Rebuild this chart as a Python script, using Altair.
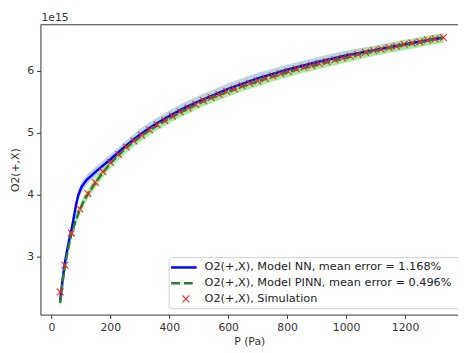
import altair as alt
import pandas as pd

# Simulation points (P in Pa, O2(+,X) in units of 1e15)
sim_p = [30, 46, 68, 97, 124, 149, 175, 201, 228, 254, 280, 306, 333, 359, 385, 411, 437,
         464, 490, 516, 542, 569, 595, 621, 647, 673, 700, 726, 752, 778, 804, 831, 857,
         883, 909, 935, 962, 988, 1014, 1040, 1066, 1093, 1119, 1145, 1171, 1197, 1224,
         1250, 1276, 1302, 1330]
sim_v = [2.43, 2.86, 3.38, 3.77, 4.02, 4.20, 4.37, 4.52, 4.65, 4.77, 4.87, 4.96, 5.05,
         5.13, 5.20, 5.27, 5.34, 5.40, 5.46, 5.52, 5.57, 5.62, 5.67, 5.71, 5.76, 5.80,
         5.84, 5.88, 5.92, 5.96, 5.99, 6.03, 6.06, 6.09, 6.12, 6.15, 6.18, 6.21, 6.24,
         6.27, 6.30, 6.33, 6.35, 6.38, 6.40, 6.43, 6.45, 6.47, 6.50, 6.52, 6.54]

# Model NN curve
nn_p = [30, 38, 46, 54, 62, 68, 76, 84, 92, 103, 120, 150, 175, 200, 250, 300, 350, 400,
        450, 500, 600, 700, 800, 900, 1000, 1100, 1200, 1330]
nn_v = [2.29, 2.62, 2.90, 3.12, 3.30, 3.42, 3.63, 3.84, 4.00, 4.13, 4.24, 4.37, 4.47,
        4.57, 4.78, 4.97, 5.13, 5.27, 5.40, 5.51, 5.71, 5.88, 6.02, 6.14, 6.25, 6.34,
        6.43, 6.54]
nn_err = [0.06, 0.06, 0.06, 0.06, 0.06, 0.06, 0.07, 0.07, 0.07, 0.08, 0.08, 0.08, 0.08,
          0.08, 0.08, 0.09, 0.09, 0.09, 0.09, 0.09, 0.09, 0.09, 0.08, 0.08, 0.08, 0.07,
          0.07, 0.07]

# Model PINN curve
pinn_p = [30, 38, 46, 56, 68, 82, 97, 110, 124, 149, 175, 201, 228, 254, 280, 306, 333,
          359, 385, 411, 437, 464, 490, 516, 542, 569, 595, 621, 647, 673, 700, 726, 752,
          778, 804, 831, 857, 883, 909, 935, 962, 988, 1014, 1040, 1066, 1093, 1119, 1145,
          1171, 1197, 1224, 1250, 1276, 1302, 1330]
pinn_v = [2.25, 2.58, 2.84, 3.10, 3.36, 3.58, 3.76, 3.90, 4.01, 4.19, 4.36, 4.51, 4.64,
          4.76, 4.86, 4.95, 5.04, 5.12, 5.19, 5.26, 5.33, 5.39, 5.45, 5.51, 5.56, 5.61,
          5.66, 5.70, 5.75, 5.79, 5.83, 5.87, 5.91, 5.95, 5.98, 6.02, 6.05, 6.08, 6.11,
          6.14, 6.17, 6.20, 6.23, 6.26, 6.29, 6.32, 6.34, 6.37, 6.39, 6.42, 6.44, 6.46,
          6.49, 6.51, 6.53]
pinn_err = [0.08] * len(pinn_p)

x_ticks = [0, 200, 400, 600, 800, 1000, 1200]
y_ticks = [3, 4, 5, 6]
legend_labels = ["O2(+,X), Model NN, mean error = 1.168%",
                 "O2(+,X), Model PINN, mean error = 0.496%",
                 "O2(+,X), Simulation"]

FONT = "DejaVu Sans"
W, H = 425, 295

nn_df = pd.DataFrame({"P": nn_p, "v": nn_v,
                      "lo": [v - e for v, e in zip(nn_v, nn_err)],
                      "hi": [v + e for v, e in zip(nn_v, nn_err)]})
pinn_df = pd.DataFrame({"P": pinn_p, "v": pinn_v,
                        "lo": [v - e for v, e in zip(pinn_v, pinn_err)],
                        "hi": [v + e for v, e in zip(pinn_v, pinn_err)]})
sim_df = pd.DataFrame({"P": sim_p, "v": sim_v})

xs = alt.Scale(domain=[-37, -37 + W / 0.3], nice=False, zero=False)
ys = alt.Scale(domain=[2.063, 6.746], nice=False, zero=False)

x_axis = alt.Axis(values=x_ticks, title="P (Pa)", grid=False, format="d")
y_axis = alt.Axis(values=y_ticks, title="O2(+,X)", grid=False, format="d")

X = alt.X("P:Q", scale=xs, axis=x_axis)


def Yf(field):
    return alt.Y(f"{field}:Q", scale=ys, axis=y_axis)


nn_band = alt.Chart(nn_df).mark_area(color="#4682b4", opacity=0.35).encode(
    x=X, y=Yf("lo"), y2="hi:Q")
pinn_band = alt.Chart(pinn_df).mark_area(color="#90ee90", opacity=0.85).encode(
    x=X, y=Yf("lo"), y2="hi:Q")
nn_line = alt.Chart(nn_df).mark_line(color="#0000ff", strokeWidth=2.5).encode(
    x=X, y=Yf("v"))
pinn_line = alt.Chart(pinn_df).mark_line(color="#2e7d32", strokeWidth=2.5,
                                         strokeDash=[8, 3]).encode(x=X, y=Yf("v"))
XSHAPE = "M-1,-1L1,1M-1,1L1,-1"
sim_pts = alt.Chart(sim_df).mark_point(shape=XSHAPE, filled=False, color="#ff2020",
                                       strokeWidth=1.1, size=48, opacity=1).encode(
    x=X, y=Yf("v"))

one = pd.DataFrame({"a": [0]})
top_spine = alt.Chart(one).mark_rule(color="#333", strokeWidth=1).encode(
    x=alt.value(0), x2=alt.value(W), y=alt.value(0))
offset_txt = alt.Chart(one).mark_text(align="left", baseline="middle", font=FONT,
                                      fontSize=11, color="#333").encode(
    x=alt.value(1), y=alt.value(-7), text=alt.value("1e15"))

box = alt.Chart(one).mark_rect(fill="white", fillOpacity=0.85, stroke="#d0d0d0",
                               strokeWidth=1, cornerRadius=3).encode(
    x=alt.value(131), x2=alt.value(W + 5), y=alt.value(237), y2=alt.value(289))
h_nn = alt.Chart(one).mark_rule(color="#0000ff", strokeWidth=2.5).encode(
    x=alt.value(133), x2=alt.value(159), y=alt.value(247))
h_pinn = alt.Chart(one).mark_rule(color="#2e7d32", strokeWidth=2.5,
                                  strokeDash=[9, 4]).encode(
    x=alt.value(133), x2=alt.value(159), y=alt.value(263))
h_sim = alt.Chart(one).mark_point(shape=XSHAPE, filled=False, color="#ff2020",
                                  strokeWidth=1.1, size=48, opacity=1).encode(
    x=alt.value(148), y=alt.value(279))
texts = [alt.Chart(one).mark_text(align="left", baseline="middle", font=FONT,
                                  fontSize=11.5, color="#222").encode(
    x=alt.value(167), y=alt.value(yy), text=alt.value(lab))
    for lab, yy in zip(legend_labels, [247, 263, 279])]

chart = alt.layer(nn_band, pinn_band, nn_line, pinn_line, sim_pts, top_spine,
                  offset_txt, box, h_nn, h_pinn, h_sim, *texts).properties(
    width=W, height=H,
    autosize=alt.AutoSizeParams(type="none"),
    padding={"left": 33, "top": 14, "right": 0, "bottom": 36},
    background="white",
).configure_view(stroke=None).configure_axis(
    labelFont=FONT, titleFont=FONT, labelFontSize=11, titleFontSize=11,
    titleFontWeight="normal", labelColor="#333", titleColor="#333",
    domainColor="#333", tickColor="#333", tickSize=4, labelPadding=3,
).configure_axisY(titlePadding=6).configure_axisX(titlePadding=3)

chart.save("out.html", embed_options={"renderer": "svg", "actions": False})
